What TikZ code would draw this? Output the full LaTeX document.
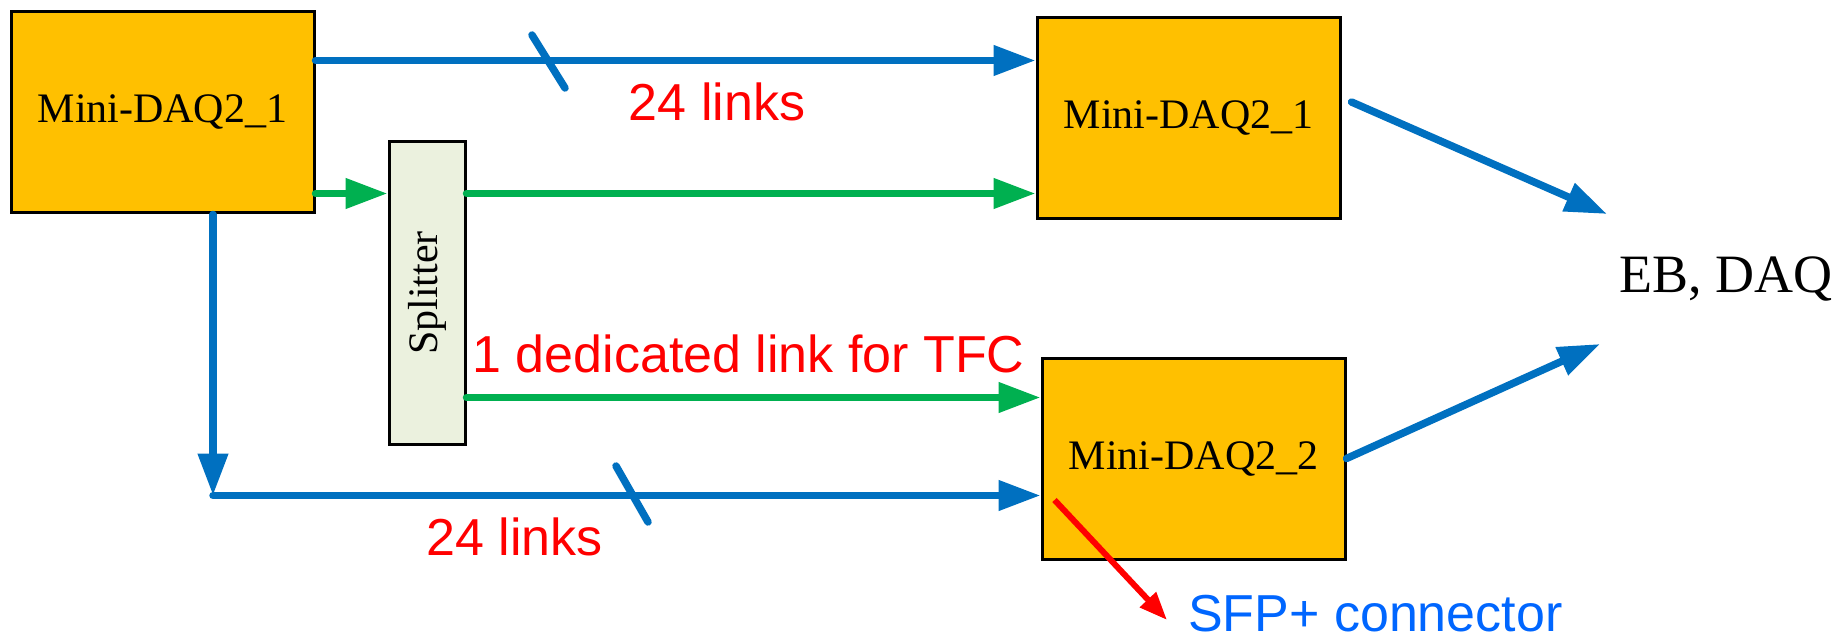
\documentclass[tikz,border=0pt]{standalone}
\usepackage{fontspec}
\setmainfont{Liberation Serif}
\newfontfamily\arialfont{Liberation Sans}
\usetikzlibrary{arrows.meta,calc}
\definecolor{boxorange}{HTML}{FFC000}
\definecolor{daqblue}{HTML}{0070C0}
\definecolor{daqgreen}{HTML}{00B050}
\definecolor{splitfill}{HTML}{EBF1DE}
\definecolor{sfpblue}{HTML}{0066FF}
\begin{document}
\begin{tikzpicture}[x=1pt,y=-1pt,
  daqbox/.style={draw=black,line width=3pt,fill=boxorange,minimum width=303pt,minimum height=201pt,inner sep=0pt,font=\fontsize{42}{48}\selectfont},
  splitbox/.style={draw=black,line width=3pt,fill=splitfill,minimum width=76pt,minimum height=302pt,inner sep=0pt,font=\fontsize{42}{48}\selectfont},
  arr/.style={-{Triangle[length=42pt,width=29pt]}},
  bl/.style={draw=daqblue,line width=7.5pt,line cap=round},
  gl/.style={draw=daqgreen,line width=7.5pt,line cap=round},
  tickline/.style={draw=daqblue,line width=7.5pt,line cap=round},
  redlbl/.style={text=red,inner sep=0pt,font=\arialfont\fontsize{52}{58}\selectfont},
  redarr/.style={draw=red,line width=6pt,-{Triangle[length=28pt,width=21pt]}}
]
\useasboundingbox (0,0) rectangle (1843,636);

% boxes
\node[daqbox] (b1) at (162.5,112.5) {Mini-DAQ2\_1};
\node[splitbox] (split) at (427,293) {\rotatebox{90}{Splitter}};
\node[daqbox] (b2) at (1188.5,118) {Mini-DAQ2\_1};
\node[daqbox] (b3) at (1193.5,458.5) {Mini-DAQ2\_2};

% labels
\node[redlbl,anchor=base] (l1) at (717,121) {24 links};
\node[redlbl,anchor=base] (l2) at (514.5,555) {24 links};
\node[redlbl,anchor=base] (l3) at (748.5,372) {1 dedicated link for TFC};
\node[anchor=base west,inner sep=0pt,font=\fontsize{54}{60}\selectfont] (eb) at (1619,292) {EB, DAQ};
\node[anchor=base west,inner sep=0pt,text=sfpblue,font=\arialfont\fontsize{52}{58}\selectfont] (sfp) at (1188,631) {SFP+ connector};

% top blue link
\coordinate (t1) at ([yshift=-50pt]b1.north east);
\draw[bl,arr] (t1) -- (t1 -| b2.west);
\draw[tickline] (532,35) -- (565,88);

% green links
\coordinate (g1) at ([yshift=21pt]b1.south east);
\draw[gl,arr] (g1) -- (g1 -| split.west);
\draw[gl,arr] (g1 -| split.east) -- (g1 -| b2.west);
\coordinate (g3) at ([yshift=48pt]split.south east);
\draw[gl,arr] (g3) -- (g3 -| b3.west);

% bottom blue link
\coordinate (v0) at ([xshift=50.5pt]b1.south);
\coordinate (corner) at ([yshift=-281pt]v0);
\draw[bl,arr] (v0) -- (corner);
\draw[bl,arr] (corner) -- (corner -| b3.west);
\draw[tickline] (616,466) -- (648,522);

% to EB, DAQ
\draw[bl,arr] ([shift={(10,-16)}]b2.east) -- ([shift={(-12,-78)}]eb.base west);
\draw[bl,arr] (b3.east) -- ([shift={(-19,52)}]eb.base west);

% SFP+ connector
\draw[redarr] ([shift={(14,41.5)}]b3.west) -- ([shift={(-21,-11)}]sfp.base west);
\end{tikzpicture}
\end{document}
